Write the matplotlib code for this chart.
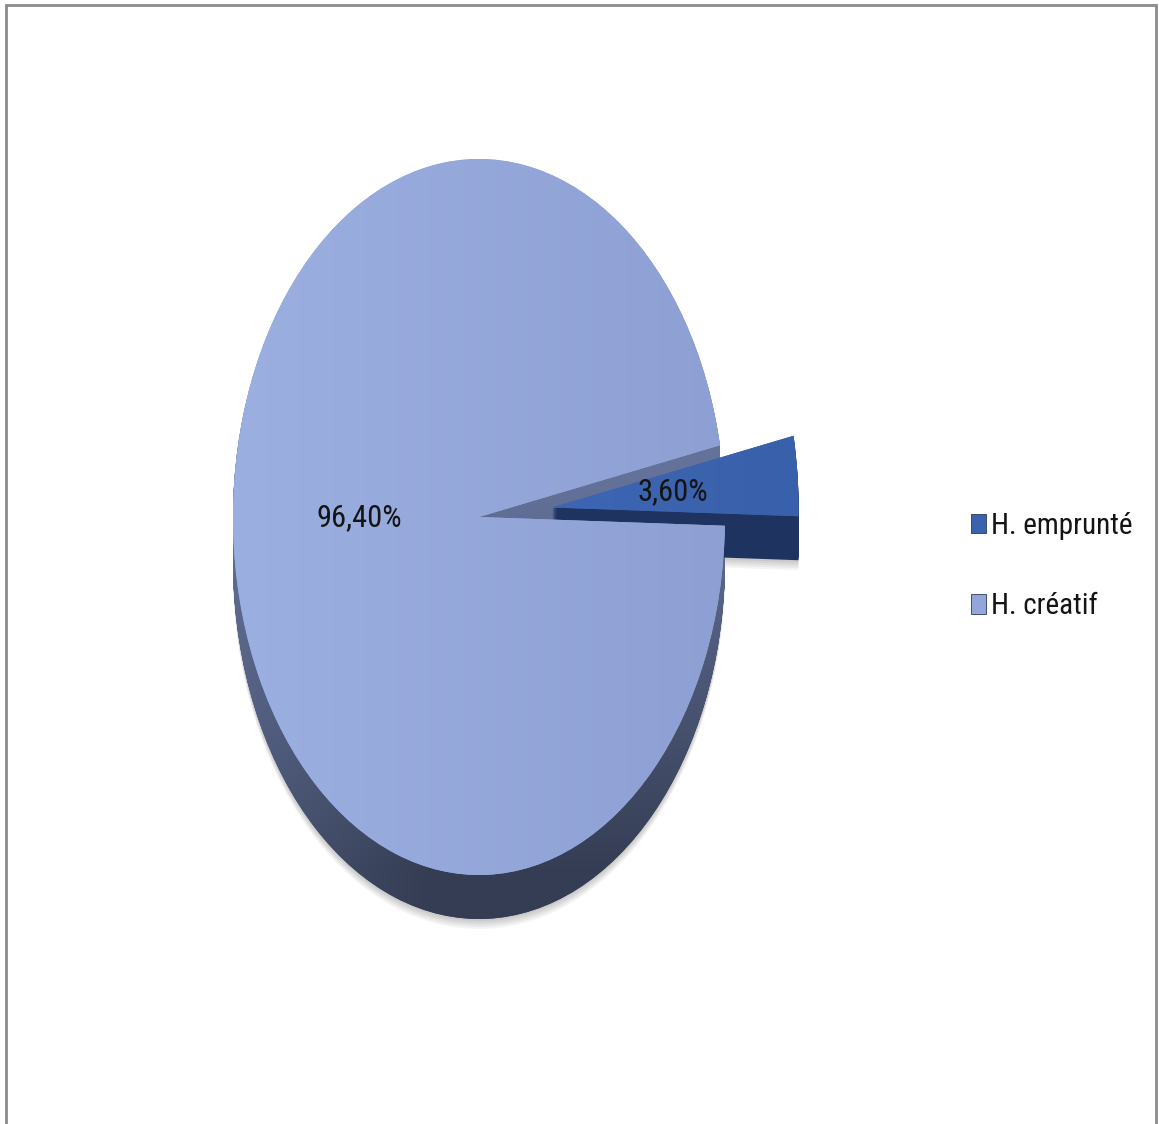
import numpy as np
import matplotlib
matplotlib.use('Agg')
import matplotlib.pyplot as plt
from matplotlib import font_manager
from matplotlib.patches import Rectangle
from matplotlib.path import Path
from matplotlib.colors import to_rgb
from matplotlib.transforms import ScaledTranslation

# ---- data ----
categories = ['H. emprunté', 'H. créatif']
values = [3.6, 96.4]
explode = [0.3, 0.0]

# ---- style ----
W, H, DPI = 1159, 1124, 100
names = {f.name for f in font_manager.fontManager.ttflist}
fam = [n for n in ['Liberation Sans Narrow', 'Roboto Condensed', 'Open Sans Condensed',
                   'Liberation Sans'] if n in names][:1] + ['DejaVu Sans']

cx, cy, rx, ry = 479, 517, 246, 358      # pixel geometry of the top face
depth_px = 44
start = -1.4
top_colors = ['#3b62ad', '#94a6d9']
side_colors = ['#1f3361', '#414b68']
fmt = lambda p: f'{p:.2f}%'.replace('.', ',')

fig = plt.figure(figsize=(W / DPI, H / DPI), dpi=DPI)
ax = fig.add_axes([0, 0, 1, 1])

depth = depth_px / ry

# gradient images
gx = np.linspace(-1.1, 1.5, 300)
gy = np.linspace(1.1, -1.1 - depth, 320)
X, Y = np.meshgrid(gx, gy)
t = np.clip((0.1 - Y) / 1.1, 0, 1)
s = np.clip((X + 1) / 0.8, 0, 1)
e = t * (0.55 + 0.45 * s)
light = np.array(to_rgb('#64729a'))
dark = np.array(to_rgb('#343d53'))
side_img = light * (1 - e[..., None]) + dark * e[..., None]
ext = (gx[0], gx[-1], gy[-1], gy[0])

u = np.clip((X + 1) / 2, 0, 1)
tl, tr = np.array(to_rgb('#9cafe1')), np.array(to_rgb('#8ea0d3'))
top_img = tl * (1 - u[..., None]) + tr * u[..., None]
us = np.clip((X - 0.3) / 1.0, 0, 1)
sl, sr = np.array(to_rgb('#3d66b3')), np.array(to_rgb('#3960aa'))
small_img = sl * (1 - us[..., None]) + sr * us[..., None]

# soft drop shadow
for k in range(54, depth_px, -2):
    ws, _ = ax.pie(values, explode=explode, startangle=start, colors=['#000000'] * 2,
                   center=(0, -k / ry), radius=1.0,
                   wedgeprops=dict(alpha=0.045, linewidth=0))
    for w in ws:
        w.set_zorder(1)

# extruded depth (pie copies shifted downward)
big_paths = []
for k in range(depth_px, 0, -1):
    ws, _ = ax.pie(values, explode=explode, startangle=start, colors=side_colors,
                   center=(0, -k / ry), radius=1.0, wedgeprops=dict(linewidth=0))
    ws[1].set_zorder(2)
    ws[0].set_zorder(4)
    big_paths.append(ws[1].get_path().transformed(ws[1].get_patch_transform()))
side_clip = Path.make_compound_path(*big_paths)
im = ax.imshow(side_img, extent=ext, aspect='auto', origin='upper',
               interpolation='bilinear', zorder=3)
im.set_clip_path(side_clip, ax.transData)

# top faces
ws, texts, autotexts = ax.pie(values, explode=explode, startangle=start,
                              colors=top_colors, autopct=fmt, pctdistance=0.49,
                              textprops=dict(fontsize=22, family=fam, color='#141414'),
                              wedgeprops=dict(linewidth=0))
ws[1].set_zorder(5)
im = ax.imshow(top_img, extent=ext, aspect='auto', origin='upper',
               interpolation='bilinear', zorder=6)
im.set_clip_path(ws[1])
ws[0].set_zorder(7)
im2 = ax.imshow(small_img, extent=ext, aspect='auto', origin='upper',
                interpolation='bilinear', zorder=8)
im2.set_clip_path(ws[0])
for tx in autotexts:
    tx.set_zorder(12)
autotexts[1].set_transform(ax.transData + ScaledTranslation(0, 0.15, fig.dpi_scale_trans))

leg = ax.legend(ws, categories, loc='center left',
                bbox_to_anchor=(971 / W, 1 - 566 / H), bbox_transform=fig.transFigure,
                frameon=False, prop=dict(family=fam, size=21),
                handlelength=0.5, handleheight=0.65, handletextpad=0.2,
                labelspacing=1.8, borderpad=0, borderaxespad=0)
for h in leg.legend_handles:
    h.set_edgecolor('#2a3a60')
    h.set_linewidth(0.6)
for tx in leg.get_texts():
    tx.set_color('#141414')
leg.set_zorder(20)

ax.set_aspect('auto')
ax.set_xlim(-cx / rx, (W - cx) / rx)
ax.set_ylim(-(H - cy) / ry, cy / ry)
ax.axis('off')

fig.add_artist(Rectangle((6 / W, -0.01), (1156 - 6) / W, 1 - 5 / H + 0.01,
                         transform=fig.transFigure, fill=False,
                         edgecolor='#8c8c8c', linewidth=2))

fig.savefig('out.png', dpi=DPI)
